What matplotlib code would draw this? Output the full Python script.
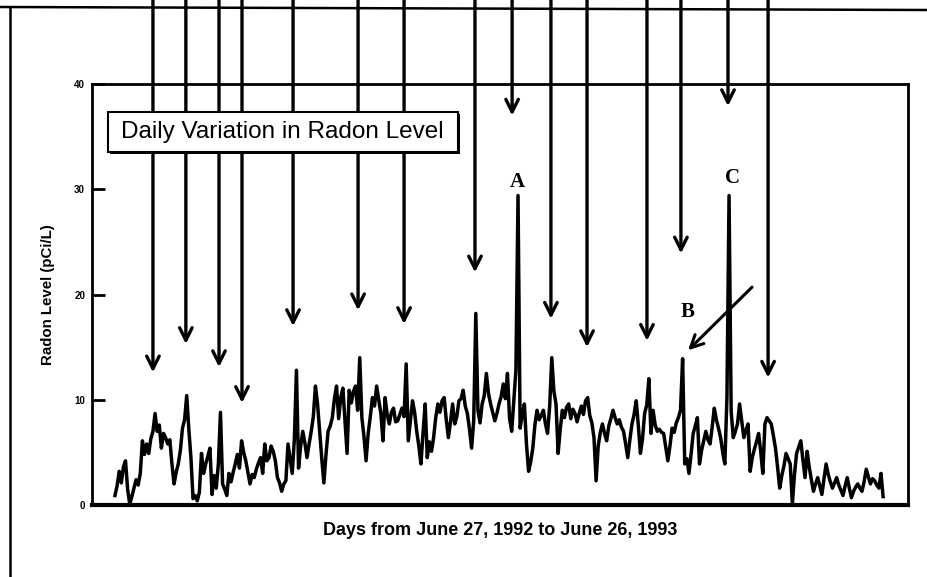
#!/usr/bin/env python3
import matplotlib
matplotlib.use("Agg")
import matplotlib.pyplot as plt
from matplotlib.lines import Line2D
from matplotlib.patches import Rectangle

OUTPUT_GRAPH_FILE = "out.png"

# daily radon level, June 27 1992 .. June 26 1993
radon = [
    0.9, 1.8, 3.2, 2.1, 3.6, 4.2, 1.5, 0.1, 0.8, 1.6,
    2.4, 1.9, 3.0, 6.1, 4.8, 5.8, 4.9, 6.3, 7.0, 8.7,
    7.0, 7.6, 5.4, 6.8, 6.4, 5.8, 6.2, 3.9, 2.0, 3.1,
    3.9, 5.2, 7.3, 8.1, 10.4, 7.2, 4.5, 0.6, 0.9, 0.4,
    1.2, 4.9, 3.0, 3.9, 4.6, 5.4, 1.0, 2.8, 1.6, 3.9,
    8.8, 2.0, 1.5, 0.9, 3.0, 2.2, 3.1, 3.9, 4.8, 3.5,
    6.1, 5.0, 4.2, 3.1, 2.0, 2.9, 2.6, 3.4, 4.0, 4.5,
    3.0, 5.8, 4.2, 4.5, 5.6, 5.1, 4.2, 2.6, 2.1, 1.3,
    2.0, 2.3, 5.8, 4.4, 3.0, 6.2, 12.8, 3.5, 5.6, 7.0,
    5.9, 4.5, 5.8, 7.0, 8.4, 11.3, 9.6, 7.0, 4.4, 2.1,
    4.8, 7.0, 7.5, 8.3, 10.1, 11.3, 8.2, 10.2, 11.1, 8.0,
    4.9, 10.9, 9.7, 10.8, 11.3, 9.0, 14.0, 8.3, 6.5, 4.2,
    6.8, 8.4, 10.2, 9.4, 11.3, 10.0, 8.7, 6.1, 10.2, 8.6,
    7.7, 8.8, 9.2, 7.9, 8.0, 8.6, 9.2, 8.4, 13.4, 6.1,
    8.0, 9.9, 8.8, 7.0, 5.6, 3.9, 6.9, 9.6, 4.5, 6.0,
    5.1, 6.4, 8.3, 9.6, 8.8, 9.9, 10.2, 8.1, 6.4, 7.9,
    9.6, 7.7, 8.4, 9.9, 10.1, 10.9, 9.4, 8.7, 7.2, 5.4,
    8.0, 18.2, 9.0, 7.8, 9.6, 10.4, 12.5, 10.6, 9.6, 8.8,
    8.0, 8.7, 9.6, 10.3, 11.5, 10.1, 12.5, 8.2, 7.0, 9.9,
    12.8, 29.4, 7.3, 8.6, 9.6, 5.8, 3.2, 4.1, 5.4, 7.6,
    9.0, 8.1, 8.5, 9.0, 7.7, 6.8, 9.4, 14.0, 10.8, 9.6,
    4.9, 7.2, 9.0, 8.3, 9.3, 9.6, 8.2, 9.1, 8.7, 7.9,
    8.7, 9.4, 8.6, 9.9, 10.2, 8.5, 7.8, 6.4, 2.3, 5.6,
    6.9, 7.7, 6.8, 6.1, 7.5, 8.2, 9.0, 8.3, 7.7, 8.1,
    7.4, 7.0, 5.8, 4.5, 6.2, 7.7, 8.6, 9.9, 7.6, 4.9,
    6.3, 8.7, 9.5, 12.0, 6.8, 9.0, 7.6, 7.0, 7.2, 6.9,
    6.8, 5.5, 4.2, 5.6, 7.3, 6.9, 7.8, 8.3, 9.0, 13.9,
    3.9, 4.4, 3.0, 4.8, 6.8, 7.5, 8.3, 3.9, 5.2, 6.1,
    7.0, 6.2, 5.8, 7.4, 9.2, 8.1, 7.3, 6.4, 5.0, 3.9,
    10.2, 29.4, 8.9, 6.4, 7.0, 7.7, 9.6, 8.0, 6.4, 7.1,
    7.7, 3.2, 4.5, 5.3, 6.0, 6.8, 5.1, 3.0, 7.7, 8.3,
    8.0, 7.7, 6.6, 5.4, 3.6, 1.6, 2.8, 3.7, 4.9, 4.4,
    3.9, 0.1, 2.9, 4.9, 5.5, 6.1, 4.3, 2.6, 5.1, 3.6,
    2.4, 1.3, 2.0, 2.6, 1.8, 1.0, 2.5, 3.9, 2.9, 2.2,
    1.6, 2.1, 2.6, 1.9, 1.4, 0.9, 1.8, 2.6, 1.6, 0.7,
    1.3, 1.7, 2.0, 1.6, 1.3, 2.2, 3.4, 2.7, 2.0, 2.5,
    2.3, 1.9, 1.6, 3.0, 0.8,
]
days = list(range(len(radon)))

# marked events: day and level where each arrow points
event_days = [18.0, 33.6, 49.3, 60.2, 84.4, 115.2, 137.0, 170.6,
              188.2, 206.6, 223.7, 252.1, 268.2, 290.5, 309.5]
event_tips = [12.6, 15.3, 13.1, 9.7, 17.0, 18.5, 17.2, 22.1,
              37.0, 17.7, 15.0, 15.6, 23.9, 37.9, 12.1]

# labelled peaks
peak_labels = ["A", "B", "C"]
peak_days = [190.5, 271.6, 292.4]
peak_levels = [30.7, 18.3, 31.1]

y_ticks = [0, 10, 20, 30, 40]


def main():
    fig = plt.figure(figsize=(9.27, 5.77), dpi=100)
    ax = fig.add_axes([0.0992, 0.1248, 0.8803, 0.7296])

    ax.plot(days, radon, color="black", lw=2.5)
    ax.set_xlim(-10.9, 375.8)
    ax.set_ylim(0, 40)
    ax.set_xticks([])
    ax.set_yticks(y_ticks)
    ax.set_yticklabels([str(t) for t in y_ticks], fontsize=7,
                       fontweight="bold", family="Liberation Sans")
    ax.tick_params(axis="y", direction="in", length=9, width=2, pad=5)
    for sp in ax.spines.values():
        sp.set_linewidth(2)
    ax.spines["bottom"].set_linewidth(3)

    ax.set_xlabel("Days from June 27, 1992 to June 26, 1993", fontsize=13,
                  fontweight="bold", family="Liberation Sans", labelpad=12)
    ax.set_ylabel("Radon Level (pCi/L)", fontsize=10.8, fontweight="bold",
                  family="Liberation Sans", labelpad=14)

    # arrows coming down from the top edge of the page
    for d, tip in zip(event_days, event_tips):
        ax.annotate("", xy=(d, tip), xytext=(d, 49),
                    arrowprops=dict(arrowstyle="->,head_length=0.9,head_width=0.45",
                                    lw=2.4, color="black", shrinkA=0, shrinkB=0),
                    annotation_clip=False)

    for lab, d, lv in zip(peak_labels, peak_days, peak_levels):
        ax.text(d, lv, lab, ha="center", va="center", fontsize=15,
                fontweight="bold", family="Liberation Serif")

    # arrow pointing at B
    ax.annotate("", xy=(271.6, 14.7), xytext=(301.9, 20.7),
                arrowprops=dict(arrowstyle="->,head_length=0.9,head_width=0.45",
                                lw=2.2, color="black", shrinkA=0, shrinkB=0))

    # title box with a drop shadow
    W, H = 927.0, 577.0
    fig.patches.append(Rectangle((110 / W, 1 - 154 / H), 350 / W, 40 / H,
                                 transform=fig.transFigure, facecolor="black",
                                 edgecolor="none", zorder=5))
    fig.patches.append(Rectangle((108 / W, 1 - 152 / H), 350 / W, 40 / H,
                                 transform=fig.transFigure, facecolor="white",
                                 edgecolor="black", lw=1.5, zorder=6))
    fig.text(282 / W, 1 - 132 / H, "Daily Variation in Radon Level",
             ha="center", va="center", fontsize=17.5, family="Liberation Sans",
             zorder=7)

    # page frame lines from the scan
    fig.add_artist(Line2D([0, 1], [1 - 7 / H, 1 - 10 / H], color="black",
                          lw=1.8, transform=fig.transFigure))
    fig.add_artist(Line2D([10 / W, 10 / W], [1 - 7 / H, 0], color="black",
                          lw=1.8, transform=fig.transFigure))

    fig.savefig(OUTPUT_GRAPH_FILE, dpi=100)
    plt.close(fig)


if __name__ == "__main__":
    main()
